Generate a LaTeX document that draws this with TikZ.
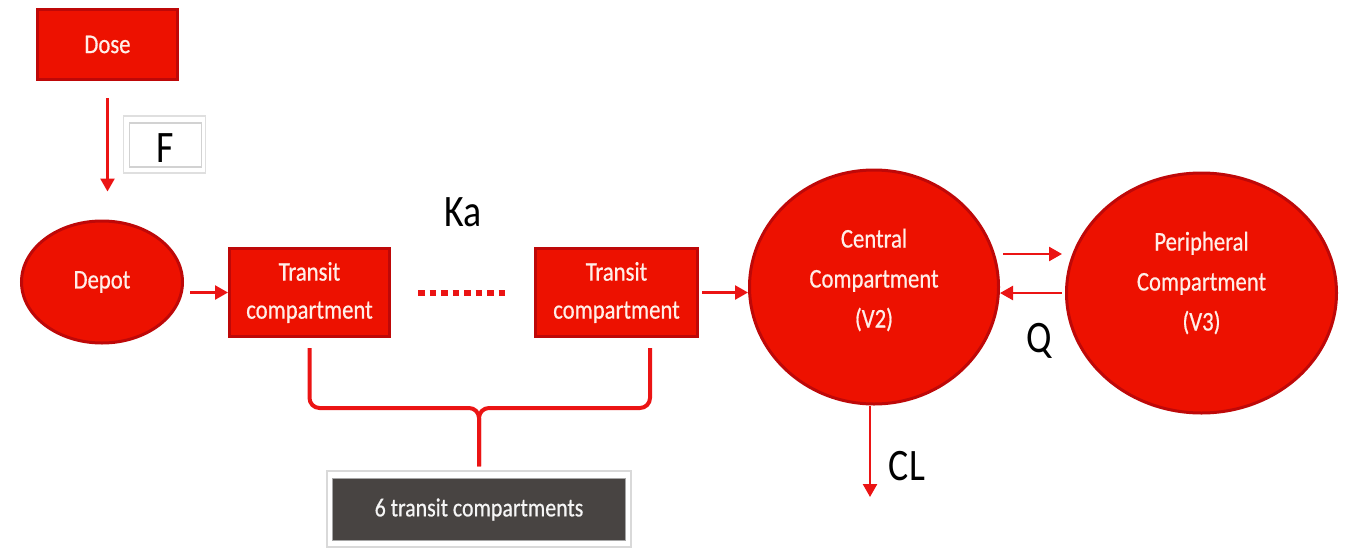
\documentclass[tikz,border=0pt]{standalone}
\usepackage{fontspec}
\setmainfont{Carlito}
\newfontfamily\tallfont[FakeStretch=0.84,FakeBold=0.6]{Carlito}
\newfontfamily\lblfont[FakeStretch=0.84]{Carlito}
\usetikzlibrary{shapes.geometric,arrows.meta,calc}
\definecolor{rfill}{RGB}{237,17,0}
\definecolor{rdraw}{RGB}{190,8,8}
\definecolor{rarrow}{RGB}{235,20,20}
\definecolor{dgray}{RGB}{72,68,66}
\definecolor{ptext}{RGB}{255,238,232}
\begin{document}
\begin{tikzpicture}[x=1pt,y=-1pt,
  box/.style={rectangle, draw=rdraw, line width=3pt, fill=rfill, text=ptext,
    font=\tallfont\fontsize{27}{38}\selectfont, align=center, inner sep=0pt},
  ell/.style={ellipse, draw=rdraw, line width=3pt, fill=rfill, inner sep=0pt,
    text=ptext, font=\tallfont\fontsize{27}{38}\selectfont, align=center},
  etext/.style={text=ptext, font=\tallfont\fontsize{27}{40}\selectfont, align=center, inner sep=0pt},
  arr/.style={draw=rarrow, line width=2.5pt, -{Triangle[length=13pt,width=14pt]}},
  lbl/.style={text=black, font=\lblfont\fontsize{45}{48}\selectfont, inner sep=0pt},
  dotline/.style={draw=rarrow, line width=6pt, dash pattern=on 6.5pt off 5pt},
  brace/.style={draw=rarrow, line width=4pt, rounded corners=10pt},
  fbox/.style={rectangle, draw=gray!25, line width=1.2pt, fill=white, inner sep=0pt},
]
\useasboundingbox (0,0) rectangle (1358,552);

% Dose and F
\node[box, minimum width=140pt, minimum height=70pt] (dose) at (107.5,44.5) {Dose};
\node[fbox, minimum width=82pt, minimum height=57pt] (fout) at (164.5,144.5) {};
\node[fbox, draw=gray!35, minimum width=72pt, minimum height=44pt] (fin) at (165.5,145) {};
\node[lbl] (flbl) at (165,148) {F};

% Depot and transit compartments
\node[ell, minimum width=161pt, minimum height=122pt] (depot) at (102,282) {Depot};
\node[box, minimum width=160pt, minimum height=88pt] (trans1) at (309.5,292.5) {Transit\\compartment};
\node[box, minimum width=162pt, minimum height=88pt] (trans2) at (616.5,292.5) {Transit\\compartment};
\node[lbl] (ka) at (463,212) {Ka};

% Central and peripheral
\node[ell, minimum width=249pt, minimum height=234pt,
  label={[etext, name=centralt, yshift=7pt]center:{Central\\Compartment\\(V2)}}] (central) at (874,287) {};
\node[ell, minimum width=270pt, minimum height=240pt,
  label={[etext, name=periphtt, yshift=10pt]center:{Peripheral\\Compartment\\(V3)}}] (periph) at (1201.5,293) {};
\node[lbl] (q) at (1039,341) {Q};
\node[lbl] (cl) at (907,466) {CL};

% 6 transit compartments box
\node[fbox, draw=gray!30, line width=1.5pt, minimum width=304pt, minimum height=76pt] (tcout) at (479,509) {};
\node[rectangle, fill=dgray, draw=gray!70, line width=0.8pt, minimum width=293pt, minimum height=62pt,
  text=white!92!gray, font=\tallfont\fontsize{26}{30}\selectfont, inner sep=0pt] (tc) at (479,509.5) {6 transit compartments};

% Connectors
\draw[arr, shorten >=28pt] ([yshift=-17pt]dose.south) -- (dose.south |- depot.north);
\draw[arr, shorten <=6pt] (depot.east |- trans1.west) -- (trans1.west);
\draw[dotline, shorten <=27pt, shorten >=26pt] (trans1.east) -- (trans2.west);
\draw[arr, shorten <=3pt] (trans2.east) -- (central.west |- trans2.east);
\coordinate (qtop) at (0,254);
\draw[arr, shorten <=3pt, shorten >=3pt] (central.east |- qtop) -- (periph.west |- qtop);
\draw[arr, shorten <=3pt] (periph.west) -- (central.east |- periph.west);
\coordinate (clend) at (870,497);
\draw[arr] (central.south -| clend) -- (clend);

% Brace
\coordinate (bL) at ([yshift=-10pt]trans1.south);
\coordinate (bR) at (650,348);
\coordinate (bmid) at (479,408);
\coordinate (bstem) at ([yshift=4pt]tcout.north);
\draw[brace] (bL) -- (bL |- bmid) -- (bmid) -- (bstem);
\draw[brace] (bR) -- (bR |- bmid) -- (bmid) -- (bstem);
\end{tikzpicture}
\end{document}
